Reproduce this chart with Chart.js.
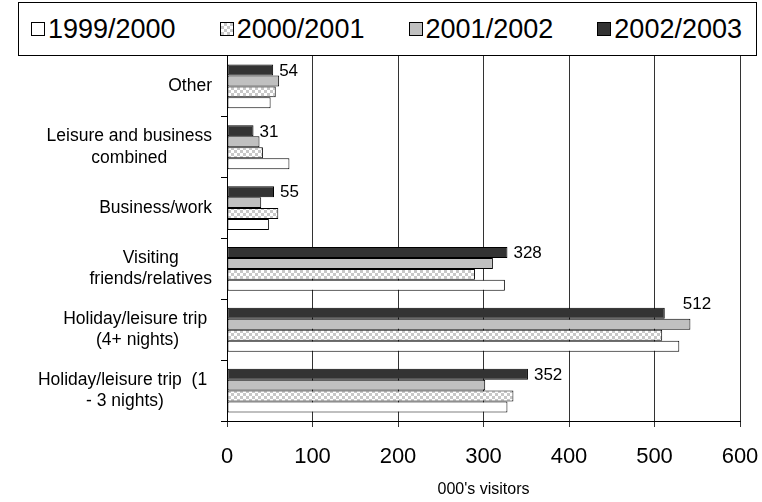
<!DOCTYPE html>
<html>
<head>
<meta charset="utf-8">
<script src="https://cdn.jsdelivr.net/npm/chart.js@4.4.1/dist/chart.umd.min.js"></script>
<style>
  html, body { margin: 0; padding: 0; background: #fff; }
  #wrap { position: relative; width: 762px; height: 502px; font-family: "Liberation Sans", Arial, sans-serif; }
  #chart { position: absolute; left: 0; top: 0; }
  #legend {
    position: absolute; left: 18px; top: 2px; width: 739px; height: 54px;
    box-sizing: border-box; border: 1px solid #000; background: #fff;
    display: flex; align-items: center; justify-content: space-between; padding: 0 14px 0 12px;
  }
  .item { display: flex; align-items: center; font-size: 27px; color: #000; }
  .swatch { width: 12px; height: 12px; border: 1px solid #000; margin-right: 3px; }
</style>
</head>
<body>
<div id="wrap">
  <canvas id="chart" width="762" height="502"></canvas>
  <div id="legend"></div>
</div>
<script>
const categories = [
    ['Other'],
    ['Leisure and business', 'combined'],
    ['Business/work'],
    ['Visiting', 'friends/relatives'],
    ['Holiday/leisure trip ', '(4+ nights)'],
    ['Holiday/leisure trip  (1 ', '- 3 nights)']
];
const seasons = ['1999/2000', '2000/2001', '2001/2002', '2002/2003'];

// visitors in thousands, one array per season
const visitors9900 = [51, 73, 49, 325, 529, 328];
const visitors0001 = [57, 42, 60, 290, 509, 335];
const visitors0102 = [61, 38, 40, 311, 542, 302];
const visitors0203 = [54, 31, 55, 328, 512, 352];

const xMin = 0;
const xMax = 600;
const xStep = 100;

const fontFamily = '"Liberation Sans", Arial, sans-serif';

function checkerPattern() {
    const c = document.createElement('canvas');
    c.width = 6;
    c.height = 6;
    const g = c.getContext('2d');
    g.fillStyle = '#fff';
    g.fillRect(0, 0, 6, 6);
    g.fillStyle = '#c8c8c8';
    g.fillRect(0, 0, 3, 3);
    g.fillRect(3, 3, 3, 3);
    return g.createPattern(c, 'repeat');
}

const fills = ['#ffffff', checkerPattern(), '#c0c0c0', '#333333'];
const swatchCss = [
    '#ffffff',
    'repeating-conic-gradient(#c8c8c8 0 25%, #ffffff 0 50%) 0 0 / 6px 6px',
    '#c0c0c0',
    '#333333'
];

// newest season first so it sits at the top of each group
const seriesValues = [visitors9900, visitors0001, visitors0102, visitors0203];
const datasets = [3, 2, 1, 0].map(function(s) {
    return {
        label: seasons[s],
        data: seriesValues[s],
        backgroundColor: fills[s],
        borderColor: '#000',
        borderWidth: 1,
        borderSkipped: false,
        categoryPercentage: 0.72,
        barPercentage: 1.0
    };
});

// labels down the category axis: each block right aligned, its lines centred
const categoryLabels = {
    id: 'categoryLabels',
    afterDraw(chart) {
        const y = chart.scales.y;
        const ctx = chart.ctx;
        ctx.save();
        ctx.font = '17.5px ' + fontFamily;
        ctx.fillStyle = '#000';
        ctx.textAlign = 'center';
        ctx.textBaseline = 'middle';
        const right = y.right - 15;
        categories.forEach(function(lines, i) {
            const w = Math.max.apply(null, lines.map(function(l) { return ctx.measureText(l).width; }));
            const cx = right - w / 2;
            const cy = y.getPixelForValue(i);
            lines.forEach(function(l, j) {
                ctx.fillText(l, cx, cy + (j - (lines.length - 1) / 2) * 21.5);
            });
        });
        ctx.restore();
    }
};

// value labels at the end of the 2002/2003 bars
const valueLabels = {
    id: 'valueLabels',
    afterDatasetsDraw(chart, args, opts) {
        const ctx = chart.ctx;
        const meta = chart.getDatasetMeta(0);
        const values = chart.data.datasets[0].data;
        ctx.save();
        ctx.font = '17px ' + fontFamily;
        ctx.fillStyle = '#000';
        ctx.textAlign = 'left';
        ctx.textBaseline = 'middle';
        meta.data.forEach(function(bar, i) {
            const nudge = opts.nudge[i] || [0, 0];
            ctx.fillText(values[i], bar.x + 6 + nudge[0], bar.y + 1 + nudge[1]);
        });
        ctx.restore();
    }
};

const chart = new Chart(document.getElementById('chart'), {
    type: 'bar',
    data: {
        labels: categories.map(function(l) { return l.join(' ').replace(/\s+/g, ' ').trim(); }),
        datasets: datasets
    },
    options: {
        indexAxis: 'y',
        responsive: false,
        animation: false,
        layout: { padding: { top: 56, right: 22, bottom: 0, left: 0 } },
        plugins: {
            legend: { display: false },
            tooltip: { enabled: false },
            valueLabels: { nudge: { 4: [12, -10] } }
        },
        scales: {
            x: {
                min: xMin,
                max: xMax,
                ticks: {
                    stepSize: xStep,
                    color: '#000',
                    padding: 17,
                    font: { family: fontFamily, size: 22 }
                },
                grid: { color: '#333', lineWidth: 1, tickLength: 6 },
                border: { color: '#000', width: 1 },
                title: {
                    display: true,
                    text: "000's visitors",
                    color: '#000',
                    padding: { top: 0, bottom: 3 },
                    font: { family: fontFamily, size: 16 }
                },
                afterFit: function(scale) {
                    scale.height = 81;
                    // let the last tick label hang into the right margin
                    scale.paddingLeft = 0;
                    scale.paddingRight = 22;
                }
            },
            y: {
                offset: true,
                ticks: { display: false },
                grid: { drawOnChartArea: false, offset: true, color: '#000', tickLength: 6 },
                border: { color: '#000', width: 1 },
                afterFit: function(scale) { scale.width = 227; }
            }
        }
    },
    plugins: [categoryLabels, valueLabels]
});

// legend box above the plot, oldest season first
const legendEl = document.getElementById('legend');
seasons.forEach(function(name, s) {
    const item = document.createElement('div');
    item.className = 'item';
    item.innerHTML = '<span class="swatch" style="background:' + swatchCss[s] + '"></span>' + name;
    legendEl.appendChild(item);
});
</script>
</body>
</html>
